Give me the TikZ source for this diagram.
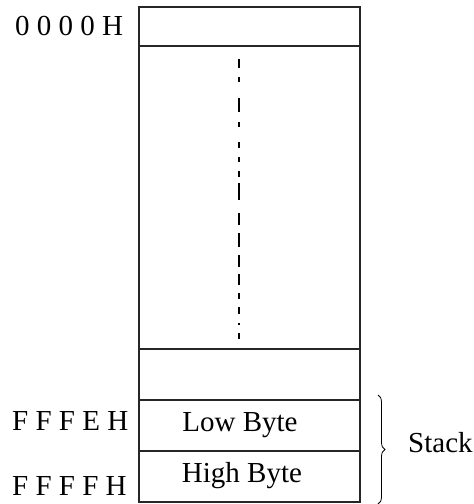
\documentclass[tikz,border=0pt]{standalone}
\usepackage{fontspec}
\setmainfont{Liberation Serif}
\usetikzlibrary{decorations.pathreplacing}
\begin{document}
\begin{tikzpicture}[x=1pt,y=-1pt,
  cell/.style={draw=black!85, line width=1.3pt, minimum width=221pt, inner sep=0pt, outer sep=0pt},
  lbl/.style={inner sep=0pt, font=\fontsize{29}{31}\selectfont},
  dotline/.style={line width=1.3pt, black}]
\useasboundingbox (0,0) rectangle (474,504);
\node[cell, minimum height=39pt] (c0) at (249.5,26.5) {};
\node[cell, minimum height=303pt] (c1) at (249.5,197.5) {};
\node[cell, minimum height=51pt] (c2) at (249.5,374.5) {};
\node[cell, minimum height=51pt] (c3) at (249.5,425.5) {};
\node[cell, minimum height=51pt] (c4) at (249.5,476.5) {};
% irregular dashed line
\foreach \a/\b in {59/68,77/82,98/112,122/127,142/148,157/162,171/177,183/200,213/225,233/247,255/267,274/285,293/299,307/314,323/325,333/339}
  \draw[dotline] (239,\a) -- (239,\b);
\node[lbl, anchor=base west] (a0) at (15,35) {0 0 0 0 H};
\node[lbl, anchor=base west] (a1) at (12,430) {F F F E H};
\node[lbl, anchor=base west] (a2) at (12,495) {F F F F H};
\node[lbl, anchor=base] (lo) at (240,431) {Low Byte};
\node[lbl, anchor=base] (hi) at (242,482) {High Byte};
\coordinate (bt) at (378,395);
\coordinate (bb) at (378,504);
\draw[line width=0.8pt, decorate, decoration={brace, amplitude=7pt}] (bt) -- (bb);
\node[lbl, anchor=base west] (st) at (408,452) {Stack};
\end{tikzpicture}
\end{document}
